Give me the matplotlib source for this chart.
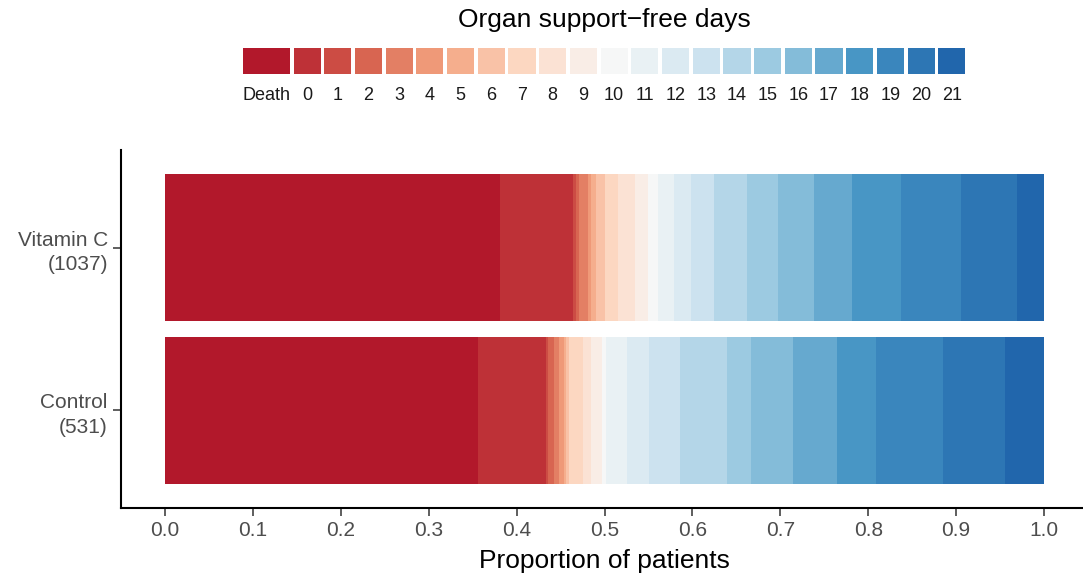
import numpy as np
import matplotlib
matplotlib.use('Agg')
import matplotlib.pyplot as plt
from matplotlib.colors import LinearSegmentedColormap

plt.rcParams['font.family'] = ['Liberation Sans', 'DejaVu Sans']

# ---- data (proportions) ----
categories = ['Death'] + [str(d) for d in range(22)]
groups = ['Control\n(531)', 'Vitamin C\n(1037)']

vitc = [0.381, 0.083, 0.004, 0.003, 0.010, 0.004, 0.005, 0.011, 0.014, 0.020,
        0.014, 0.012, 0.018, 0.019, 0.027, 0.037, 0.035, 0.041, 0.044, 0.055,
        0.069, 0.063, 0.031]
control = [0.356, 0.077, 0.003, 0.007, 0.005, 0.006, 0.002, 0.004, 0.016, 0.009,
           0.012, 0.005, 0.024, 0.025, 0.035, 0.053, 0.028, 0.047, 0.051, 0.044,
           0.076, 0.071, 0.044]

# RdBu (9 class) ramped to 23 colours
rdbu9 = ['#B2182B', '#D6604D', '#F4A582', '#FDDBC7', '#F7F7F7',
         '#D1E5F0', '#92C5DE', '#4393C3', '#2166AC']
cmap = LinearSegmentedColormap.from_list('rdbu', rdbu9)
colors = [cmap(v) for v in np.linspace(0, 1, len(categories))]

W, H = 1083, 574
fig = plt.figure(figsize=(W / 100, H / 100), dpi=100)

# ---- main axes ----
ax = fig.add_axes([121 / W, 1 - 508 / H, 967 / W, 358 / H])
ypos = np.arange(len(groups))
data = np.array([control, vitc])
left = np.zeros(len(groups))
for i, cat in enumerate(categories):
    ax.barh(ypos, data[:, i], left=left, height=0.9, color=colors[i],
            edgecolor='none', linewidth=0)
    left += data[:, i]

ax.set_xlim(-0.05, 1.05)
ax.set_ylim(-0.6, 1.6)
ax.set_xticks(np.round(np.arange(0, 1.01, 0.1), 1))
ax.set_xticklabels([f'{v:.1f}' for v in np.arange(0, 1.01, 0.1)])
ax.set_yticks(ypos)
ax.set_yticklabels(groups, ha='right', linespacing=1.35)
ax.tick_params(axis='both', colors='#333333', labelcolor='#4D4D4D',
               labelsize=15, length=5.5, width=1.1, direction='out')
ax.tick_params(axis='x', pad=4)
ax.tick_params(axis='y', pad=4)
for s in ['top', 'right']:
    ax.spines[s].set_visible(False)
for s in ['left', 'bottom']:
    ax.spines[s].set_linewidth(1.5)
    ax.spines[s].set_color('black')
ax.set_xlabel('Proportion of patients', fontsize=19, labelpad=6)

# ---- legend (manual, horizontal keys with labels below) ----
lax = fig.add_axes([0, 0, 1, 1])
lax.set_xlim(0, W)
lax.set_ylim(H, 0)
lax.axis('off')
x = 243
for i, cat in enumerate(categories):
    kw = 47 if cat == 'Death' else 27.2
    lax.add_patch(plt.Rectangle((x, 47.5), kw, 26.5, color=colors[i], lw=0))
    lax.text(x + kw / 2, 96, cat, ha='center', va='center', fontsize=13,
             color='#1A1A1A')
    x += kw + 3.5
lax.text(604, 20, 'Organ support\u2212free days', ha='center', va='center',
         fontsize=19, color='black')

fig.savefig('out.png', dpi=100)
